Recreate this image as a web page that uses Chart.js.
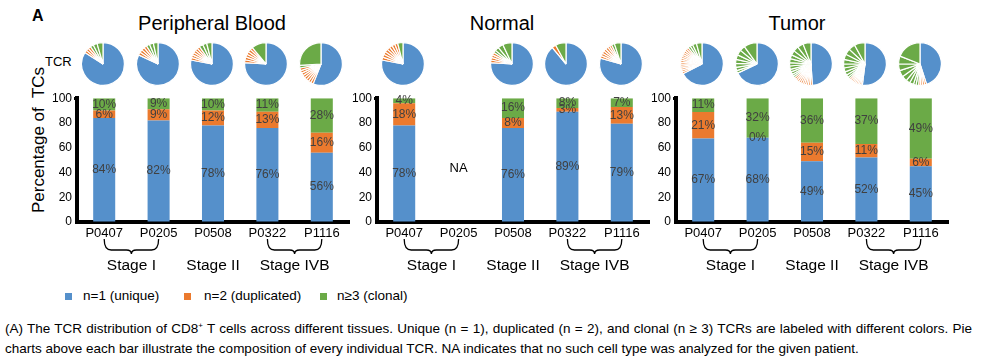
<!DOCTYPE html>
<html><head><meta charset="utf-8">
<script src="https://cdn.jsdelivr.net/npm/chart.js@4.4.1/dist/chart.umd.min.js"></script>
<style>
html,body{margin:0;padding:0;background:#fff;}
#root{position:relative;width:982px;height:358px;overflow:hidden;font-family:'Liberation Sans',Arial,sans-serif;color:#000;}
.abs{position:absolute;white-space:nowrap;}
.ctr{transform:translateX(-50%);}
canvas{position:absolute;}
.sw{position:absolute;width:7px;height:7px;}
</style></head><body><div id="root">
<div class="abs" style="left:32px;top:8px;font-size:16px;line-height:16px;font-weight:bold;">A</div>
<div class="abs ctr" style="left:212px;top:13px;font-size:20px;line-height:20px;">Peripheral Blood</div>
<div class="abs ctr" style="left:502px;top:13px;font-size:20px;line-height:20px;">Normal</div>
<div class="abs ctr" style="left:797px;top:13px;font-size:20px;line-height:20px;">Tumor</div>
<div class="abs" style="left:45px;top:55px;font-size:13px;line-height:13px;">TCR</div>
<div class="abs" style="left:38px;top:140px;font-size:17px;line-height:17px;white-space:pre;transform:translate(-50%,-50%) rotate(-90deg);">Percentage of  TCs</div>
<div id="legend"></div>
<div class="abs" style="left:5px;top:319px;font-size:13.5px;line-height:20px;"><span style="word-spacing:0.5px;">(A) The TCR distribution of CD8<sup style="font-size:8px;line-height:0;">+</sup> T cells across different tissues. Unique (n = 1), duplicated (n = 2), and clonal (n ≥ 3) TCRs are labeled with different colors. Pie</span><br>charts above each bar illustrate the composition of every individual TCR. NA indicates that no such cell type was analyzed for the given patient.</div>
</div>
<script>
// ---------- data ----------
const patients = ['P0407','P0205','P0508','P0322','P1116'];
const stageGroups = [['Stage I',0,1],['Stage II',2,2],['Stage IVB',3,4]];
const seriesNames = ['n=1 (unique)','n=2 (duplicated)','n\u22653 (clonal)'];

const bloodUnique  = [84,82,78,76,56];
const bloodDup     = [6,9,12,13,16];
const bloodClonal  = [10,9,10,11,28];
const normalUnique = [78,null,76,89,79.4];
const normalDup    = [18,null,8,3,13.4];
const normalClonal = [4,null,16,8,7.2];
const tumorUnique  = [67.4,68,49,52,45];
const tumorDup     = [21.4,0,15,11,6];
const tumorClonal  = [11.2,32,36,37,49];

// pie wedges: one entry per individual TCR (% of cells)
const bloodPieDup = [[2,2,2],[2.25,2.25,2.25,2.25],[2,2,2,2,2,2],[2.2,2.2,2.2,2.2,2.2,2],[2,2,2,2,2,2,2,2]];
const bloodPieClonal = [[2.5,3,4.5],[2.5,3,3.5],[3,3,4],[11],[2,26]];
const normalPieDup = [[2.25,2.25,2.25,2.25,2.25,2.25,2.25,2.25],null,[2,2,2,2],[3],[2,2,2,2,2,1.7,1.7]];
const normalPieClonal = [[4],null,[2,3,4,7],[8],[2.2,5]];
const tumorPieDup = [[1.5,1.5,1.5,1.5,1.5,1.5,1.5,1.5,1.5,1.5,1.6,1.6,1.6,1.6],[],[1.5,1.5,1.5,1.5,1.5,1.5,1.5,1.5,1.5,1.5],[1.2,1.2,1.2,1.2,1.2,1.2,1.2,1.2,1.4],[1.5,1.5,1.5,1.5]];
const tumorPieClonal = [[2,2,3,4.2],[2,2.5,3,3,3.5,4,4,10],[1.5,1.5,2,2,2.5,2.5,3,3,3.5,4,4.5,6],[1.5,2,2.5,3,3,3.5,4,4.5,5,8],[2,2,3,3,4,5,5,6,19]];

// ---------- style ----------
const COLORS = ['#5590CB','#EB7A2E','#6BAA47'];
const FONT = "'Liberation Sans', Arial, sans-serif";
const root = document.getElementById('root');

// legend (HTML)
const legendPos = [[65,83],[184,204],[320,337]];
seriesNames.forEach((n,i)=>{
  const s=document.createElement('div'); s.className='sw';
  s.style.left=legendPos[i][0]+'px'; s.style.top='293px'; s.style.background=COLORS[i];
  root.appendChild(s);
  const t=document.createElement('div'); t.className='abs';
  t.style.cssText+='left:'+legendPos[i][1]+'px;top:289px;font-size:13.5px;line-height:13px;';
  t.textContent=n; root.appendChild(t);
});

const valueLabels = {
  id:'valueLabels',
  afterDatasetsDraw(chart){
    const ctx=chart.ctx; ctx.save();
    ctx.font='12px '+FONT; ctx.fillStyle='#404040'; ctx.textAlign='center'; ctx.textBaseline='middle';
    chart.data.datasets.forEach((ds,di)=>{
      chart.getDatasetMeta(di).data.forEach((el,i)=>{
        const v=ds.data[i]; if(v==null) return;
        const p=el.getProps(['x','y','base'],true);
        ctx.fillText(Math.round(v)+'%', p.x, (p.y+p.base)/2);
      });
    });
    ctx.restore();
  }
};

const stages = {
  id:'stages',
  afterDraw(chart){
    const ctx=chart.ctx, xs=chart.scales.x, ys=chart.scales.y, b=chart.chartArea.bottom;
    ctx.save();
    ctx.strokeStyle='#000'; ctx.lineWidth=1.3; ctx.fillStyle='#000';
    stageGroups.forEach(([lab,a,c])=>{
      const x1=xs.getPixelForValue(a), x2=xs.getPixelForValue(c), xm=(x1+x2)/2;
      if(c>a){
        const yT=b+17, yM=b+28, yB=b+32;
        ctx.beginPath();
        ctx.moveTo(x1,yT); ctx.quadraticCurveTo(x1,yM,x1+7,yM); ctx.lineTo(xm-5,yM); ctx.quadraticCurveTo(xm,yM,xm,yB);
        ctx.moveTo(x2,yT); ctx.quadraticCurveTo(x2,yM,x2-7,yM); ctx.lineTo(xm+5,yM); ctx.quadraticCurveTo(xm,yM,xm,yB);
        ctx.stroke();
      }
      ctx.font='15.5px '+FONT; ctx.textAlign='center'; ctx.textBaseline='alphabetic';
      ctx.fillText(lab, xm, b+48);
    });
    // NA marks for missing samples
    chart.data.datasets[0].data.forEach((v,i)=>{
      if(v==null){ ctx.font='13px '+FONT; ctx.textAlign='center'; ctx.textBaseline='middle';
        ctx.fillText('NA', xs.getPixelForValue(i), ys.getPixelForValue(43)); }
    });
    ctx.restore();
  }
};

const Y_W=45, W=323, H=191, TOP=89, PAD_T=8, PLOT_H=125;
function makePanel(axisX, uniq, dup, clon, pieDup, pieClon){
  const cv=document.createElement('canvas');
  cv.width=W; cv.height=H; cv.style.width=W+'px'; cv.style.height=H+'px';
  cv.style.left=(axisX-Y_W)+'px'; cv.style.top=TOP+'px';
  root.appendChild(cv);
  const chart=new Chart(cv,{
    type:'bar',
    data:{labels:patients, datasets:[uniq,dup,clon].map((d,i)=>({
      label:seriesNames[i], data:d, backgroundColor:COLORS[i], borderWidth:0,
      barPercentage:0.405, categoryPercentage:1}))},
    options:{
      responsive:false, animation:false, events:[],
      layout:{padding:{top:PAD_T,right:6,left:0,bottom:0}},
      plugins:{legend:{display:false}, tooltip:{enabled:false}},
      scales:{
        x:{stacked:true, afterFit(s){s.height=H-PLOT_H-PAD_T;},
           grid:{display:false, drawTicks:false},
           border:{display:true,color:'#000',width:4},
           ticks:{font:{size:13,family:FONT},color:'#000',padding:4,maxRotation:0,autoSkip:false}},
        y:{stacked:true, min:0, max:100, afterFit(s){s.width=Y_W;},
           grid:{display:true, drawOnChartArea:false, drawTicks:true, tickLength:3, tickWidth:3,
                 tickColor:c=>(c.tick&&c.tick.value===100)?'#000':'rgba(0,0,0,0)'},
           border:{display:true,color:'#000',width:4},
           ticks:{stepSize:20,font:{size:12,family:FONT},color:'#000',padding:2}}
      }
    },
    plugins:[valueLabels, stages]
  });
  patients.forEach((p,i)=>{
    if(uniq[i]==null) return;
    const cx=axisX-Y_W+chart.scales.x.getPixelForValue(i);
    const pc=document.createElement('canvas');
    pc.width=44; pc.height=44; pc.style.width='44px'; pc.style.height='44px';
    pc.style.left=(cx-23)+'px'; pc.style.top='42px';
    root.appendChild(pc);
    const vals=[uniq[i]].concat(pieDup[i]||[], pieClon[i]||[]);
    const cols=[COLORS[0]].concat((pieDup[i]||[]).map(()=>COLORS[1]),(pieClon[i]||[]).map(()=>COLORS[2]));
    new Chart(pc,{type:'pie',
      data:{datasets:[{data:vals, backgroundColor:cols, borderColor:'#fff', borderWidth:1.2}]},
      options:{responsive:false, animation:false, events:[], layout:{padding:0},
        plugins:{legend:{display:false},tooltip:{enabled:false}}}});
  });
}
makePanel(77, bloodUnique, bloodDup, bloodClonal, bloodPieDup, bloodPieClonal);
makePanel(377, normalUnique, normalDup, normalClonal, normalPieDup, normalPieClonal);
makePanel(676, tumorUnique, tumorDup, tumorClonal, tumorPieDup, tumorPieClonal);
</script>
</body></html>
